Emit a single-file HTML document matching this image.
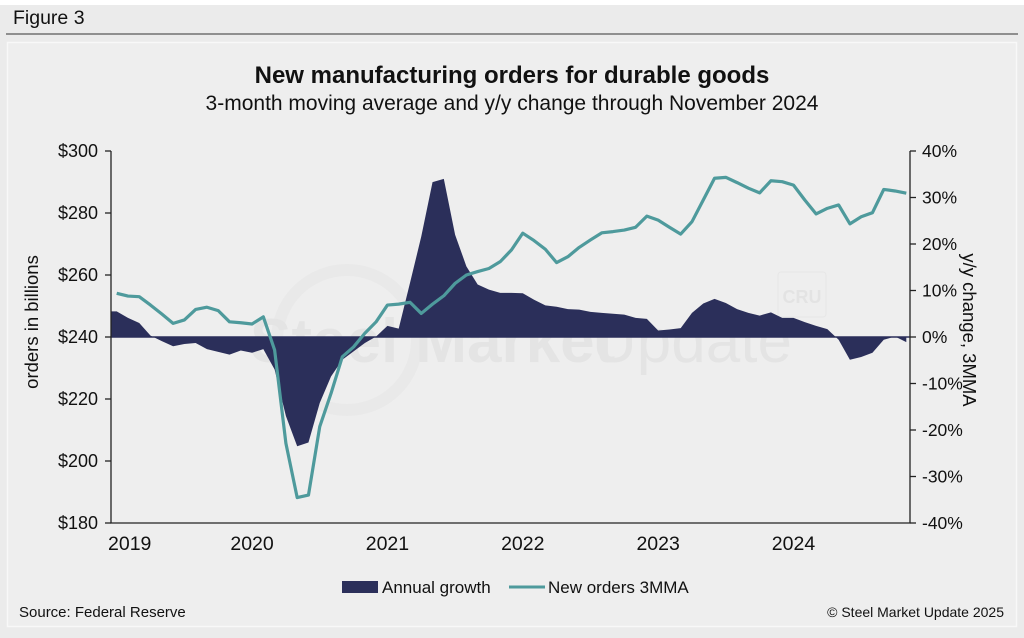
<!DOCTYPE html>
<html><head><meta charset="utf-8">
<style>
html,body{margin:0;padding:0;background:#ebebeb;}
body{width:1024px;height:633px;overflow:hidden;font-family:"Liberation Sans",Arial,sans-serif;}
</style></head>
<body>
<svg id="chart" width="1024" height="633" xmlns="http://www.w3.org/2000/svg">
<rect x="0" y="0" width="1024" height="5" fill="#ffffff"/>
<text x="13" y="24" font-size="19.5" fill="#111">Figure 3</text>
<line x1="6" y1="34" x2="1018" y2="34" stroke="#333" stroke-width="1"/>
<rect x="7.5" y="42.5" width="1009" height="584" fill="#eeeeee" stroke="#f8f8f8" stroke-width="1.5"/>
<text x="512" y="83" text-anchor="middle" font-size="24" font-weight="bold" fill="#111">New manufacturing orders for durable goods</text>
<text x="512" y="110" text-anchor="middle" font-size="21" fill="#111">3-month moving average and y/y change through November 2024</text>
<g opacity="0.35">
<circle cx="347" cy="340" r="70" fill="none" stroke="#e0e0e0" stroke-width="12"/>
<text x="250" y="362" font-size="62" font-weight="bold" fill="#d4d4d4">Steel Market</text>
<text x="592" y="362" font-size="62" fill="#d4d4d4">Update</text>
<rect x="778" y="272" width="48" height="45" rx="3" fill="none" stroke="#dadada"/>
<text x="802" y="303" text-anchor="middle" font-size="18" font-weight="bold" fill="#d0d0d0">CRU</text>
</g>
<g id="plot"></g>
<text transform="translate(38,322) rotate(-90)" text-anchor="middle" font-size="18.5" fill="#111">orders in billions</text>
<text transform="translate(963,330) rotate(90)" text-anchor="middle" font-size="18.5" fill="#111">y/y change, 3MMA</text>
<g>
<g>
<rect x="342" y="581" width="36" height="12" fill="#2b2f5a"/>
<text x="382" y="593" font-size="17" fill="#111">Annual growth</text>
</g>
<g>
<line x1="509" y1="587" x2="545" y2="587" stroke="#4e9a9c" stroke-width="3"/>
<text x="548" y="593" font-size="17" fill="#111">New orders 3MMA</text>
</g>
</g>
<text x="19" y="617" font-size="15" fill="#111">Source: Federal Reserve</text>
<text x="1004" y="617" text-anchor="end" font-size="14" fill="#111">© Steel Market Update 2025</text>
</svg>
<script>
const yearLabels = ["2019","2020","2021","2022","2023","2024"];
const leftTicks = [180,200,220,240,260,280,300];
const rightTicks = [-40,-30,-20,-10,0,10,20,30,40];
const orders3mma = [254.1,253.2,253.0,250.3,247.4,244.4,245.5,248.9,249.6,248.5,244.9,244.6,
244.2,246.5,235.8,205.7,188.2,189.0,211.1,221.8,233.6,236.8,241.2,244.9,
250.3,250.6,251.2,247.6,250.6,253.3,257.3,260.0,261.1,262.1,264.3,268.1,
273.5,271.1,268.3,264.0,265.9,268.9,271.3,273.6,274.0,274.5,275.4,279.0,
277.7,275.4,273.2,277.2,284.2,291.2,291.5,289.8,288.0,286.5,290.4,290.1,
289.0,284.2,279.7,281.5,282.6,276.5,278.8,280.1,287.6,287.1,286.4];
const annualGrowth = [5.5,4.1,3.0,0.3,-0.9,-2.0,-1.5,-1.3,-2.6,-3.2,-3.8,-2.9,
-3.4,-2.6,-7.0,-17.0,-23.5,-22.7,-14.2,-8.5,-4.9,-3.1,-1.3,0.1,
2.4,1.8,11.6,21.6,33.3,34.0,22.0,15.2,11.3,10.2,9.5,9.5,
9.4,8.0,6.8,6.5,6.0,5.9,5.4,5.2,5.0,4.8,4.1,3.9,
1.4,1.6,1.9,5.2,7.2,8.2,7.3,6.0,5.2,4.6,5.3,4.1,
4.1,3.2,2.4,1.7,-0.6,-4.9,-4.3,-3.4,-0.6,0.1,-1.1];

const NS="http://www.w3.org/2000/svg";
const plot=document.getElementById('plot');
const L=111,R=910,T=151,B=523;
const xS=i=>116.7+i*11.28;
const yL=v=>B-(v-180)/120*(B-T);
const yR=v=>B-(v+40)/80*(B-T);
function mk(tag,attrs){const e=document.createElementNS(NS,tag);for(const k in attrs)e.setAttribute(k,attrs[k]);plot.appendChild(e);return e;}

let d=`M${L},${yR(0)}L${L},${yR(annualGrowth[0])}`;
annualGrowth.forEach((v,i)=>{d+=`L${xS(i)},${yR(v)}`;});
d+=`L${xS(annualGrowth.length-1)},${yR(0)}Z`;
const area=mk('path',{d:d,fill:'#2b2f5a'});


const zl=mk('line',{x1:L,y1:yR(0),x2:R,y2:yR(0),stroke:'#2b2f5a','stroke-width':1.5});



let p='';
orders3mma.forEach((v,i)=>{p+=(i?'L':'M')+xS(i)+','+yL(v);});
const ln=mk('path',{d:p,fill:'none',stroke:'#4e9a9c','stroke-width':3.2,'stroke-linejoin':'round'});



const ax=mk('path',{d:`M${L},${T}L${L},${B}L${R},${B}L${R},${T}`,fill:'none',stroke:'#222','stroke-width':1.3});


leftTicks.forEach(v=>{
  const y=yL(v);
  const t=mk('line',{x1:L-6,y1:y,x2:L,y2:y,stroke:'#222','stroke-width':1.3});
  
  
  const tx=mk('text',{x:L-13,y:y+6,'text-anchor':'end','font-size':18,fill:'#111'});
  tx.textContent='$'+v;
  
  
});
rightTicks.forEach(v=>{
  const y=yR(v);
  const t=mk('line',{x1:R,y1:y,x2:R+6,y2:y,stroke:'#222','stroke-width':1.3});
  
  
  const tx=mk('text',{x:R+12,y:y+6,'font-size':17.5,fill:'#111'});
  tx.textContent=v+'%';
  
  
});
yearLabels.forEach((s,k)=>{
  const tx=mk('text',{x:k===0?108:xS(k*12),y:550,'text-anchor':k===0?'start':'middle','font-size':19.5,fill:'#111'});
  tx.textContent=s;
  
  
});
</script>
</body></html>
